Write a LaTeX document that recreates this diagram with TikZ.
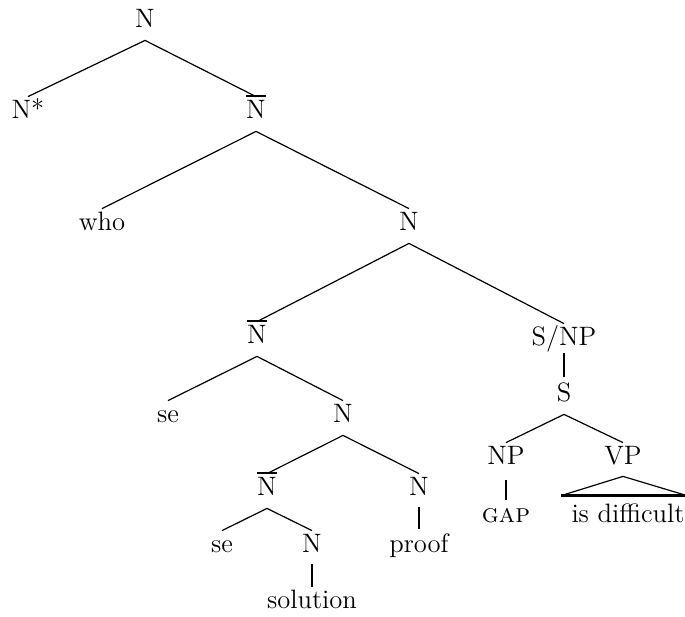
\documentclass[tikz,border=0pt]{standalone}
\usepackage{fontspec}
% barred N with a heavy bar
\newcommand\nbar{\vbox{\hrule height 1.2pt\kern 1.3pt\hbox{N}}}
\begin{document}
\begin{tikzpicture}[x=0.5pt,y=-0.5pt,
  lbl/.style={font=\fontsize{13.3}{16}\selectfont, text height=9.5pt, text depth=5.5pt,
              inner xsep=1pt, inner ysep=1pt, anchor=base},
  branch/.style={line width=0.6pt},
  unary/.style={line width=1.2pt},
  roof/.style={line width=0.6pt},
  roofbase/.style={line width=1.3pt}]
\useasboundingbox (0,0) rectangle (685,616);

% labels, placed by baseline
\node[lbl] (n0)   at (145,27)  {N};
\node[lbl] (nst)  at (28,118)  {N*};
\node[lbl] (nb1)  at (256,118) {\nbar};
\node[lbl] (who)  at (102,230) {who};
\node[lbl] (n1)   at (409,230) {N};
\node[lbl] (nb2)  at (257,343) {\nbar};
\node[lbl] (snp)  at (564,345) {S/NP};
\node[lbl] (s)    at (564,401) {S};
\node[lbl] (se1)  at (168,422) {se};
\node[lbl] (n2)   at (343,422) {N};
\node[lbl] (np)   at (506,464) {NP};
\node[lbl] (vp)   at (623,464) {VP};
\node[lbl] (nb3)  at (267,495) {\nbar};
\node[lbl] (n3)   at (419,495) {N};
\node[lbl] (gap)  at (506,522) {\textsc{gap}};
\node[lbl] (isd)  at (628,522) {is difficult};
\node[lbl] (se2)  at (222,552) {se};
\node[lbl] (n4)   at (312,552) {N};
\node[lbl] (prf)  at (419,552) {proof};
\node[lbl] (sol)  at (312,608) {solution};

% branches
\draw[branch] (n0.south) -- (nst.north);
\draw[branch] (n0.south) -- (nb1.north);
\draw[branch] (nb1.south) -- (who.north);
\draw[branch] (nb1.south) -- (n1.north);
\draw[branch] (n1.south) -- (nb2.north);
\draw[branch] (n1.south) -- (snp.north);
\draw[branch] (nb2.south) -- (se1.north);
\draw[branch] (nb2.south) -- (n2.north);
\draw[branch] (n2.south) -- (nb3.north);
\draw[branch] (n2.south) -- (n3.north);
\draw[branch] (nb3.south) -- (se2.north);
\draw[branch] (nb3.south) -- (n4.north);
\draw[branch] (s.south) -- (np.north);
\draw[branch] (s.south) -- (vp.north);

% unary branches (kept vertical under the mother node)
\draw[unary] ([yshift=2.5pt]snp.south) -- ([yshift=1.5pt]snp.south |- s.north);
\draw[unary] ([yshift=-1.5pt]np.south) -- ([yshift=0.5pt]np.south |- gap.north);
\draw[unary] ([yshift=0.5pt]n3.south) -- ([yshift=1pt]n3.south |- prf.north);
\draw[unary] ([yshift=0.5pt]n4.south) -- (n4.south |- sol.north);

% roof over the VP
\coordinate (rl) at ([xshift=-4pt,yshift=2.5pt]isd.north west);
\coordinate (rr) at ([yshift=2.5pt]isd.north east);
\draw[roof] (rl) -- ([yshift=0.5pt]vp.south) -- (rr);
\draw[roofbase] (rl) -- (rr);
\end{tikzpicture}
\end{document}
